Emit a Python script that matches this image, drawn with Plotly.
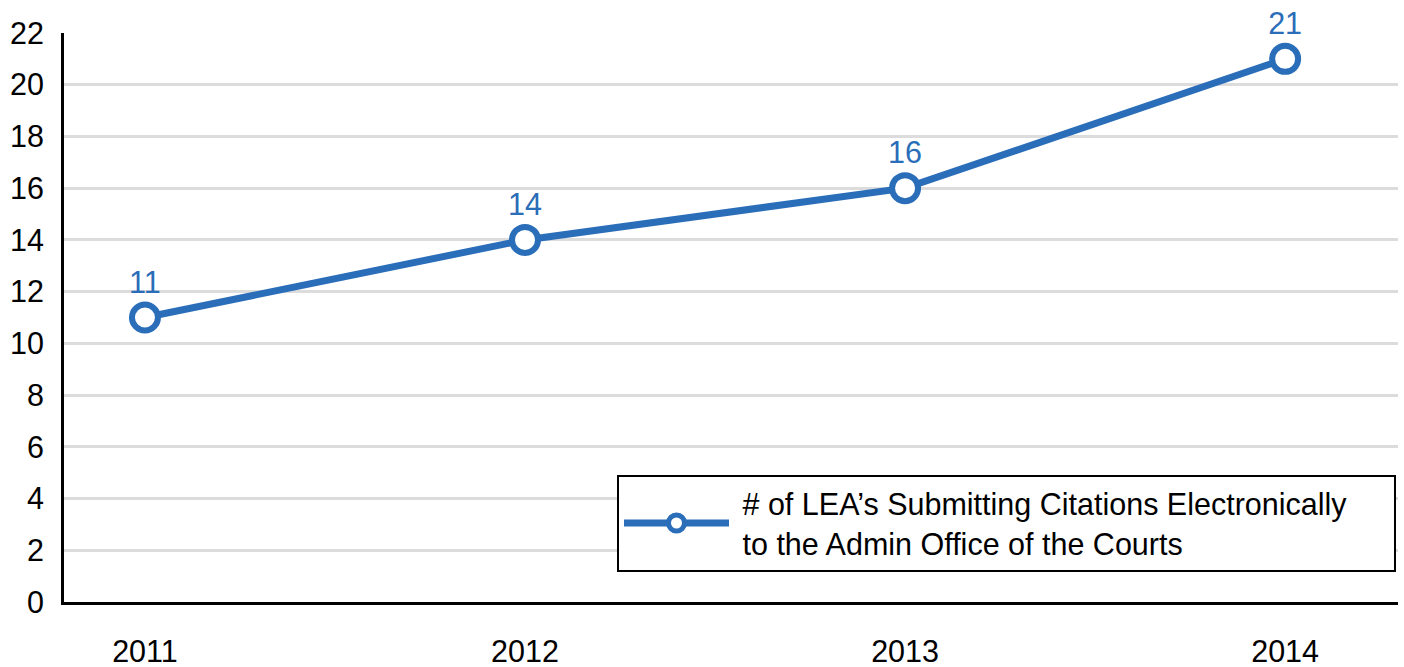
import plotly.graph_objects as go

years = ["2011", "2012", "2013", "2014"]
lea_counts = [11, 14, 16, 21]
y_ticks = list(range(0, 23, 2))
legend_lines = [
    "# of LEA’s Submitting Citations Electronically",
    "to the Admin Office of the Courts",
]

BLUE = "#2a6db8"
NBSP = "\u00a0"

# pad the legend label a bit so the box gets the same spacing as the original
series_name = (
    NBSP + legend_lines[0] + NBSP * 5 + "<br>" + NBSP + legend_lines[1]
)

fig = go.Figure()

fig.add_trace(
    go.Scatter(
        x=years,
        y=lea_counts,
        mode="lines+markers+text",
        name=series_name,
        text=[str(v) for v in lea_counts],
        textposition="top center",
        textfont=dict(color=BLUE, size=30.5),
        line=dict(color=BLUE, width=7),
        marker=dict(size=26, color="white", line=dict(color=BLUE, width=6)),
        cliponaxis=False
    )
)

fig.update_layout(
    width=1404,
    height=667,
    paper_bgcolor="white",
    plot_bgcolor="white",
    font=dict(family="Liberation Sans, Arial, sans-serif", color="black", size=30.5),
    margin=dict(l=64, r=6, t=33, b=65),
    showlegend=True,
    legend=dict(
        x=0.9985,
        y=0.053,
        xanchor="right",
        yanchor="bottom",
        bordercolor="black",
        borderwidth=2,
        bgcolor="white",
        font=dict(size=30.5, color="black"),
        itemwidth=105
    ),
    xaxis=dict(
        type="category",
        range=[-0.213, 3.297],
        showgrid=False,
        showline=True,
        linecolor="black",
        linewidth=3,
        ticks="",
        ticklabelstandoff=20,
        tickfont=dict(size=30.5),
        automargin=False
    ),
    yaxis=dict(
        range=[0, 22],
        tickvals=y_ticks,
        showgrid=True,
        gridcolor="#dcdcdc",
        gridwidth=3,
        showline=True,
        linecolor="black",
        linewidth=3,
        zeroline=False,
        ticks="",
        ticklabelstandoff=11,
        tickfont=dict(size=30.5),
        automargin=False
    )
)

fig.write_html(
    "out.html",
    config={"displayModeBar": False},
    post_script="document.body.style.margin='0';"
)
